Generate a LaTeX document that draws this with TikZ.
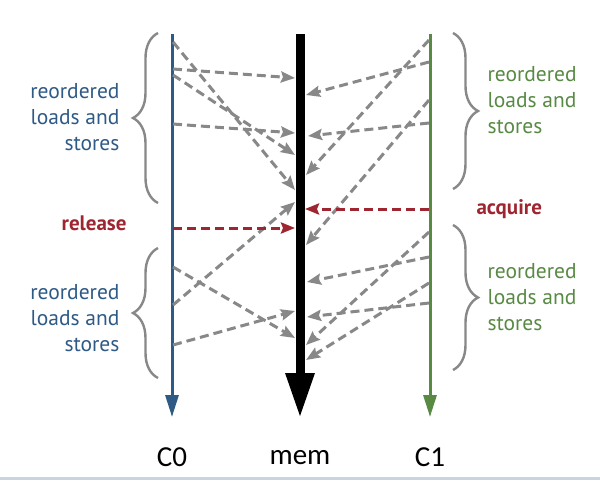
\documentclass[tikz,border=0pt]{standalone}
\usepackage{fontspec}
\setmainfont{PT Sans}
\newfontfamily\labfont{Carlito}
\usetikzlibrary{arrows.meta,decorations.pathreplacing}
\definecolor{cblue}{RGB}{46,90,134}
\definecolor{cgreen}{RGB}{88,138,68}
\definecolor{cred}{RGB}{158,38,48}
\definecolor{cgray}{RGB}{136,136,136}
\definecolor{cbar}{RGB}{200,212,224}
\tikzset{
  darr/.style={draw=cgray, line width=3pt, dash pattern=on 9pt off 5pt,
    -{Stealth[length=14pt,width=11pt,inset=2pt]}},
  rarr/.style={darr, draw=cred, -{Stealth[length=14pt,width=11pt,inset=2pt,fill=cred]}},
  bracestyle/.style={draw=cgray, line width=2.4pt, decorate,
    decoration={brace, amplitude=25pt}},
  grouptext/.style={font=\fontsize{21.5}{26}\selectfont},
  syncl/.style={font=\fontsize{21}{26}\selectfont\bfseries, text=cred},
  lab/.style={font=\labfont\fontsize{29}{32}\selectfont, text=black},
}
\begin{document}
\begin{tikzpicture}[x=1pt,y=-1pt]
\useasboundingbox (0,0) rectangle (600,480);
\fill[white] (0,0) rectangle (600,480);
\fill[cbar] (0,476.5) rectangle (600,480);

% timelines
\coordinate (c0top) at (172,34);  \coordinate (c0bot) at (172,417);
\coordinate (mtop) at (300,34);   \coordinate (mbot) at (300,418);
\coordinate (c1top) at (430,34);  \coordinate (c1bot) at (430,417);
\draw[line width=3pt, cblue, -{Triangle[length=22pt,width=13pt]}] (c0top) -- (c0bot);
\draw[line width=9pt, black, -{Triangle[length=45pt,width=27pt]}] (mtop) -- (mbot);
\draw[line width=3pt, cgreen, -{Triangle[length=22pt,width=13pt]}] (c1top) -- (c1bot);

\node[lab] (c0lab) at (172,457) {C0};
\node[lab] (memlab) at (300,458) {mem};
\node[lab] (c1lab) at (430,457) {C1};

% C0 side endpoints
\coordinate (a1) at (173,42);  \coordinate (a2) at (295,190);
\coordinate (b1) at (173,69);  \coordinate (b2) at (295,78);
\coordinate (d1) at (173,75);  \coordinate (d2) at (295,155);
\coordinate (e1) at (173,124); \coordinate (e2) at (295,133);
\coordinate (f1) at (173,305); \coordinate (f2) at (295,202);
\coordinate (g1) at (173,267); \coordinate (g2) at (295,338);
\coordinate (h1) at (173,345); \coordinate (h2) at (295,311);
\coordinate (rel1) at (173,228); \coordinate (rel2) at (295,228);
\draw[darr] (a1) -- (a2);
\draw[darr] (b1) -- (b2);
\draw[darr] (d1) -- (d2);
\draw[darr] (e1) -- (e2);
\draw[darr] (f1) -- (f2);
\draw[darr] (g1) -- (g2);
\draw[darr] (h1) -- (h2);
\draw[rarr] (rel1) -- (rel2);

% C1 side endpoints
\coordinate (i1) at (429,40);  \coordinate (i2) at (306,175);
\coordinate (j1) at (429,62);  \coordinate (j2) at (306,95);
\coordinate (k1) at (429,100); \coordinate (k2) at (306,245);
\coordinate (l1) at (429,123); \coordinate (l2) at (308,136);
\coordinate (m1) at (429,232); \coordinate (m2) at (306,345);
\coordinate (n1) at (429,257); \coordinate (n2) at (307,282);
\coordinate (o1) at (429,303); \coordinate (o2) at (307,317);
\coordinate (p1) at (429,283); \coordinate (p2) at (306,360);
\coordinate (acq1) at (429,209); \coordinate (acq2) at (305,209);
\draw[darr] (i1) -- (i2);
\draw[darr] (j1) -- (j2);
\draw[darr] (k1) -- (k2);
\draw[darr] (l1) -- (l2);
\draw[darr] (m1) -- (m2);
\draw[darr] (n1) -- (n2);
\draw[darr] (o1) -- (o2);
\draw[darr] (p1) -- (p2);
\draw[rarr] (acq1) -- (acq2);

% braces
\coordinate (lb1a) at (158,203); \coordinate (lb1b) at (158,33);
\coordinate (lb2a) at (158,378); \coordinate (lb2b) at (158,248);
\coordinate (rb1a) at (453,33);  \coordinate (rb1b) at (453,189);
\coordinate (rb2a) at (453,225); \coordinate (rb2b) at (453,370);
\draw[bracestyle] (lb1a) -- (lb1b);
\draw[bracestyle] (lb2a) -- (lb2b);
\draw[bracestyle] (rb1a) -- (rb1b);
\draw[bracestyle] (rb2a) -- (rb2b);

% texts
\node[grouptext, text=cblue, align=right, anchor=east] (t1) at (123,117) {reordered\\loads and\\stores};
\node[grouptext, text=cblue, align=right, anchor=east] (t2) at (123,318) {reordered\\loads and\\stores};
\node[grouptext, text=cgreen, align=left, anchor=west] (t3) at (484,100) {reordered\\loads and\\stores};
\node[grouptext, text=cgreen, align=left, anchor=west] (t4) at (484,297) {reordered\\loads and\\stores};
\node[syncl, anchor=east] (rel) at (130,223) {release};
\node[syncl, anchor=west] (acq) at (473,209) {acquire};
\end{tikzpicture}
\end{document}
